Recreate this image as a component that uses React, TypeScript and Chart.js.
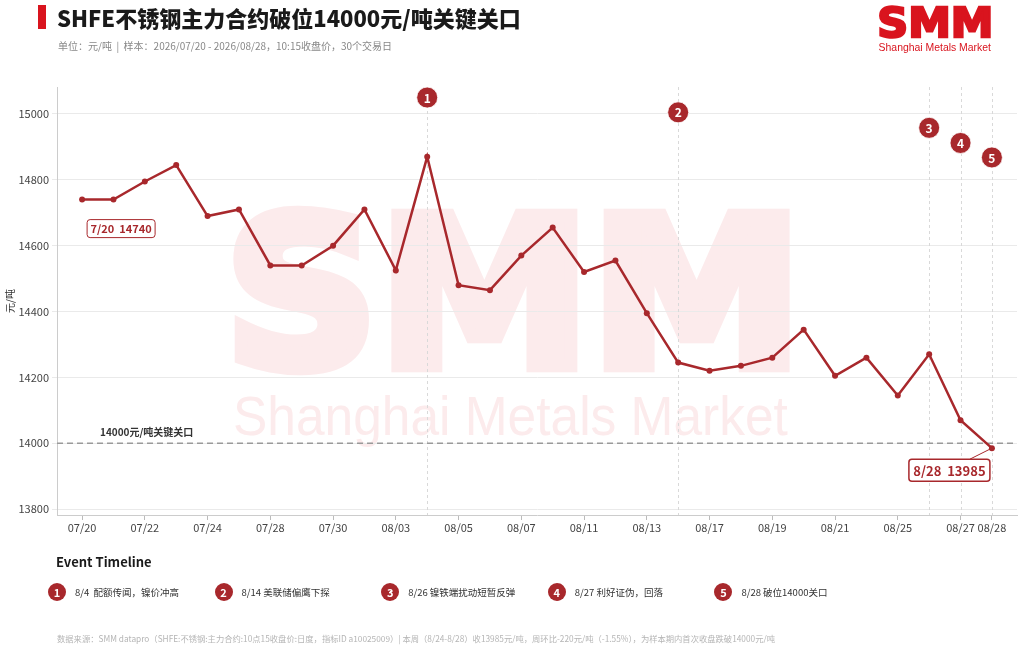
import React, { useEffect, useRef } from 'react';
import { Chart, registerables } from 'chart.js';

Chart.register(...registerables);

// ---------- data ----------
const dates = [
  '07/20', '07/21', '07/22', '07/23', '07/24', '07/27', '07/28', '07/29', '07/30', '07/31',
  '08/03', '08/04', '08/05', '08/06', '08/07', '08/10', '08/11', '08/12', '08/13', '08/14',
  '08/17', '08/18', '08/19', '08/20', '08/21', '08/24', '08/25', '08/26', '08/27', '08/28',
];
const prices = [
  14740, 14740, 14795, 14845, 14690, 14710, 14540, 14540, 14600, 14710,
  14525, 14870, 14480, 14465, 14570, 14655, 14520, 14555, 14395, 14245,
  14220, 14235, 14260, 14345, 14205, 14260, 14145, 14270, 14070, 13985,
];
const yTicks = [13800, 14000, 14200, 14400, 14600, 14800, 15000];
const xTickIdx = [0, 2, 4, 6, 8, 10, 12, 14, 16, 18, 20, 22, 24, 26, 28, 29];
const eventIdx = [11, 19, 27, 28, 29];
const eventMarkerY = [15050, 15005, 14958, 14912, 14868];
const eventNums = ['1', '2', '3', '4', '5'];
const eventTexts = [
  '8/4  配额传闻，镍价冲高',
  '8/14 美联储偏鹰下探',
  '8/26 镍铁端扰动短暂反弹',
  '8/27 利好证伪，回落',
  '8/28 破位14000关口',
];
const threshold = 14000;
const thresholdLabel = '14000元/吨关键关口';

const RED = '#a8282c';
const LOGO_RED = '#d9141e';
const FONT = "'Noto Sans CJK SC', 'Noto Sans', sans-serif";
const GAP = '\u00a0\u00a0';

function shortDate(d: string) {
  const [m, dd] = d.split('/');
  return `${parseInt(m, 10)}/${dd}`;
}

function drawBox(ctx: CanvasRenderingContext2D, text: string, cx: number, cy: number, w: number, h: number, font: string, lw: number) {
  ctx.save();
  ctx.beginPath();
  (ctx as any).roundRect(cx - w / 2, cy - h / 2, w, h, 3);
  ctx.fillStyle = '#ffffff';
  ctx.fill();
  ctx.lineWidth = lw;
  ctx.strokeStyle = RED;
  ctx.stroke();
  ctx.fillStyle = RED;
  ctx.font = font;
  ctx.textAlign = 'center';
  ctx.textBaseline = 'middle';
  ctx.fillText(text, cx, cy + 0.5);
  ctx.restore();
}

function fitText(ctx: CanvasRenderingContext2D, text: string, font: string, left: number, baseline: number, width: number, capH: number, thicken = 0) {
  ctx.save();
  ctx.font = font;
  ctx.textAlign = 'left';
  ctx.textBaseline = 'alphabetic';
  const m = ctx.measureText(text);
  const mh = ctx.measureText('H');
  const sx = width / (m.actualBoundingBoxRight + m.actualBoundingBoxLeft + thicken);
  const sy = capH / (mh.actualBoundingBoxAscent + thicken);
  ctx.translate(left, baseline);
  ctx.scale(sx, sy);
  const ox = m.actualBoundingBoxLeft + thicken / 2;
  const oy = -thicken / 2;
  ctx.fillText(text, ox, oy);
  if (thicken > 0) {
    ctx.strokeStyle = ctx.fillStyle as string;
    ctx.lineWidth = thicken;
    ctx.lineJoin = 'miter';
    ctx.strokeText(text, ox, oy);
  }
  ctx.restore();
}

const overlay = {
  id: 'overlay',
  beforeDraw(chart: any) {
    const { ctx, chartArea: ca } = chart;
    const cx = chart.width / 2;
    ctx.save();
    ctx.fillStyle = '#fcebec';
    fitText(ctx, 'SMM', `bold 100px 'DejaVu Sans'`, cx - 279, ca.top + 285, 558, 164, 6);
    fitText(ctx, 'Shanghai Metals Market', `100px 'Liberation Sans'`, cx - 277, ca.top + 348, 553, 38);
    ctx.restore();
  },
  beforeDatasetsDraw(chart: any) {
    const { ctx, chartArea: ca, scales } = chart;
    const x = scales.x;
    const y = scales.y;
    ctx.save();
    // event vertical lines
    ctx.setLineDash([3, 3]);
    ctx.strokeStyle = '#d9d9d9';
    ctx.lineWidth = 1;
    eventIdx.forEach((i) => {
      const px = Math.round(x.getPixelForValue(i)) + 0.5;
      ctx.beginPath();
      ctx.moveTo(px, ca.top);
      ctx.lineTo(px, ca.bottom);
      ctx.stroke();
    });

    // threshold
    const ty = y.getPixelForValue(threshold);
    ctx.setLineDash([6, 4]);
    ctx.strokeStyle = '#9a9a9a';
    ctx.lineWidth = 1.5;
    ctx.beginPath();
    ctx.moveTo(ca.left, ty);
    ctx.lineTo(ca.right, ty);
    ctx.stroke();
    ctx.setLineDash([]);
    ctx.fillStyle = '#333333';
    ctx.font = `bold 10px ${FONT}`;
    ctx.textAlign = 'left';
    ctx.textBaseline = 'middle';
    ctx.fillText(thresholdLabel, ca.left + 43, ty - 11);
    ctx.restore();
  },
  afterDatasetsDraw(chart: any) {
    const { ctx, scales } = chart;
    const x = scales.x;
    const y = scales.y;
    ctx.save();
    // event markers
    eventIdx.forEach((i, k) => {
      const px = x.getPixelForValue(i);
      const py = y.getPixelForValue(eventMarkerY[k]);
      ctx.beginPath();
      ctx.arc(px, py, 10.5, 0, Math.PI * 2);
      ctx.fillStyle = RED;
      ctx.fill();
      ctx.lineWidth = 1;
      ctx.strokeStyle = 'rgba(255,255,255,0.8)';
      ctx.stroke();
      ctx.fillStyle = '#ffffff';
      ctx.font = `bold 12px ${FONT}`;
      ctx.textAlign = 'center';
      ctx.textBaseline = 'middle';
      ctx.fillText(eventNums[k], px, py + 0.5);
    });

    // first label
    const p0x = x.getPixelForValue(0);
    const p0y = y.getPixelForValue(prices[0]);
    drawBox(ctx, `${shortDate(dates[0])}${GAP}${prices[0]}`, p0x + 39, p0y + 29, 68, 18, `bold 11px ${FONT}`, 1);

    // last label
    const n = prices.length - 1;
    const pnx = x.getPixelForValue(n);
    const pny = y.getPixelForValue(prices[n]);
    ctx.strokeStyle = RED;
    ctx.lineWidth = 1;
    ctx.beginPath();
    ctx.moveTo(pnx, pny);
    ctx.lineTo(pnx - 22, pny + 11);
    ctx.stroke();
    drawBox(ctx, `${shortDate(dates[n])}${GAP}${prices[n]}`, pnx - 42.5, pny + 22, 81, 22, `bold 13px ${FONT}`, 1.5);

    // top-right logo
    ctx.fillStyle = LOGO_RED;
    fitText(ctx, 'SMM', `bold 100px 'DejaVu Sans'`, 879, 38, 112, 32, 6);
    fitText(ctx, 'Shanghai Metals Market', `100px 'Liberation Sans'`, 879, 51, 112, 8);
    ctx.restore();
  },
};

export default function App() {
  const ref = useRef<HTMLCanvasElement>(null);
  useEffect(() => {
    document.body.style.margin = '0';
    const canvas = ref.current!;
    Chart.defaults.font.family = FONT;
    const chart = new Chart(canvas, {
      type: 'line',
      data: {
        datasets: [
          {
            data: prices.map((v, i) => ({ x: i, y: v })),
            borderColor: RED,
            backgroundColor: RED,
            borderWidth: 2.5,
            pointRadius: 3,
            pointHoverRadius: 3,
            pointBorderWidth: 0,
            tension: 0,
          },
        ],
      },
      options: {
        animation: false,
        responsive: false,
        maintainAspectRatio: false,
        layout: { padding: { top: 87, right: 7, left: 0, bottom: 0 } },
        plugins: { legend: { display: false }, tooltip: { enabled: false } },
        scales: {
          x: {
            type: 'linear',
            min: -0.8,
            max: 29.8,
            afterBuildTicks: (s: any) => {
              s.ticks = xTickIdx.map((v) => ({ value: v }));
            },
            afterFit: (s: any) => {
              s.height = 137;
            },
            ticks: {
              autoSkip: false,
              maxRotation: 0,
              padding: 1,
              color: '#444',
              font: { size: 11 },
              callback: (v: any) => dates[v as number] ?? '',
            },
            grid: { drawOnChartArea: false, drawTicks: true, tickLength: 5, color: '#bbbbbb' },
            border: { color: '#cccccc' },
          },
          y: {
            min: 13782,
            max: 15082,
            afterBuildTicks: (s: any) => {
              s.ticks = yTicks.map((v) => ({ value: v }));
            },
            afterFit: (s: any) => {
              s.width = 57;
            },
            ticks: { padding: 3, color: '#444', font: { size: 11 }, callback: (v: any) => String(v) },
            grid: { color: '#eaeaea', tickLength: 5 },
            border: { color: '#cccccc' },
            title: { display: true, text: '元/吨', color: '#333', font: { size: 10 }, padding: { top: 4, bottom: 0 } },
          },
        },
      },
      plugins: [overlay],
    } as any);
    return () => chart.destroy();
  }, []);

  return (
    <div style={{ position: 'relative', width: 1024, height: 652, background: '#fff', overflow: 'hidden', fontFamily: FONT }}>
      <canvas ref={ref} width={1024} height={652} style={{ position: 'absolute', left: 0, top: 0, width: 1024, height: 652 }} />
      <div style={{ position: 'absolute', left: 38, top: 5, width: 8, height: 24, background: LOGO_RED }} />
      <div style={{ position: 'absolute', left: 57, top: 2, fontSize: 22, fontWeight: 900, lineHeight: '30px', color: '#1a1a1a', whiteSpace: 'nowrap' }}>
        SHFE不锈钢主力合约破位14000元/吨关键关口
      </div>
      <div style={{ position: 'absolute', left: 58, top: 39, fontSize: 10, lineHeight: '14px', color: '#888', whiteSpace: 'pre' }}>
        单位：元/吨  |  样本：2026/07/20 - 2026/08/28，10:15收盘价，30个交易日
      </div>
      <div style={{ position: 'absolute', left: 56, top: 553, fontSize: 13, fontWeight: 700, lineHeight: '18px', color: '#1a1a1a' }}>
        Event Timeline
      </div>
      {eventTexts.map((t, k) => (
        <div key={k} style={{ position: 'absolute', left: 48 + k * 166.6, top: 582, height: 20, display: 'flex', alignItems: 'center', whiteSpace: 'pre' }}>
          <div style={{ width: 18, height: 18, borderRadius: 9, background: RED, color: '#fff', fontSize: 11, fontWeight: 700, display: 'flex', alignItems: 'center', justifyContent: 'center', lineHeight: 1 }}>
            {eventNums[k]}
          </div>
          <div style={{ marginLeft: 9, fontSize: 9.5, color: '#333', lineHeight: '12px' }}>{t}</div>
        </div>
      ))}
      <div style={{ position: 'absolute', left: 57, top: 632, fontSize: 8.3, lineHeight: '12px', color: '#b5b5b5', whiteSpace: 'pre' }}>
        数据来源：SMM datapro（SHFE:不锈钢:主力合约:10点15收盘价:日度，指标ID a10025009）| 本周（8/24-8/28）收13985元/吨，周环比-220元/吨（-1.55%），为样本期内首次收盘跌破14000元/吨
      </div>
    </div>
  );
}
